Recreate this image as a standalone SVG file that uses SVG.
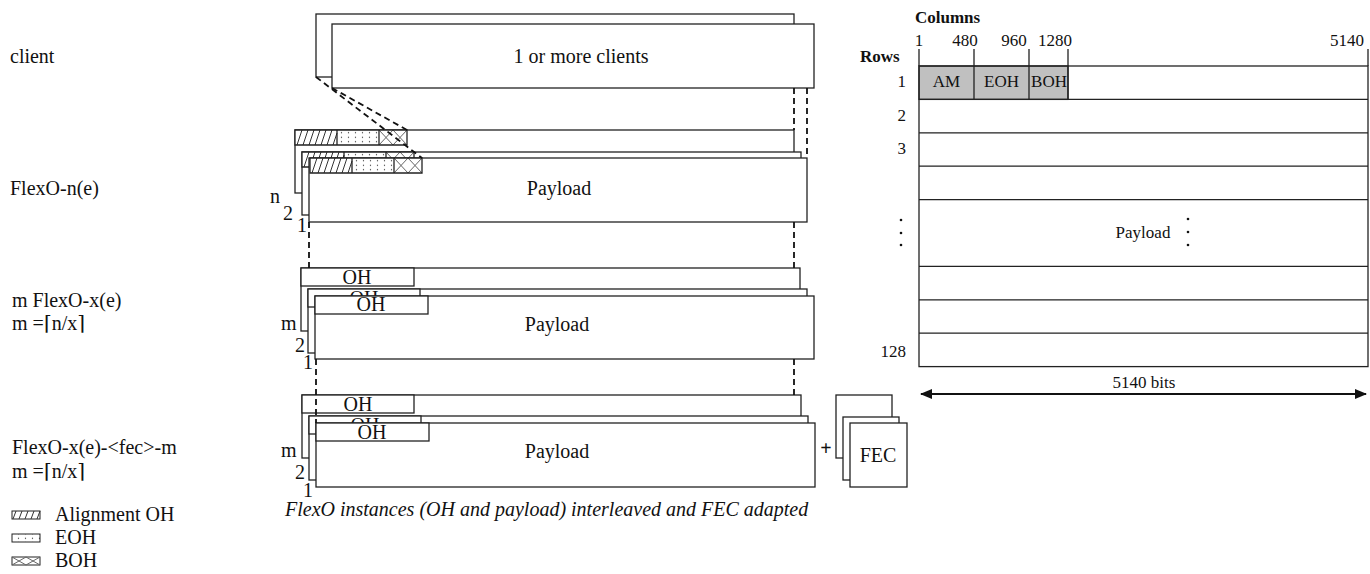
<svg xmlns="http://www.w3.org/2000/svg" xmlns:xlink="http://www.w3.org/1999/xlink" width="1370" height="574" viewBox="0 0 1370 574">
<style>
text{font-family:"Liberation Serif","DejaVu Serif",serif;fill:#111}
.t20{font-size:20px}
.t17{font-size:17px}
.mid{text-anchor:middle}
.end{text-anchor:end}
.box{fill:#fff;stroke:#222;stroke-width:1.3}
.ln{stroke:#222;stroke-width:1.3;fill:none}
.dash{stroke:#111;stroke-width:1.8;fill:none;stroke-dasharray:6 4}
.hat{stroke:#333;stroke-width:1;fill:none}
.crs{stroke:#666;stroke-width:1;fill:none}
.gray{fill:#c0c0c0;stroke:#222;stroke-width:1.3}
</style>
<defs>
<pattern id="dots" width="7" height="4.5" patternUnits="userSpaceOnUse" x="1" y="0.5">
<circle cx="3.5" cy="2.2" r="0.65" fill="#333"/>
</pattern>
<g id="ohRow">
<rect x="0" y="0" width="112" height="15" fill="#fff"/>
<path class="hat" d="M2,15L7,0M8,15L13,0M14,15L19,0M20,15L25,0M26,15L31,0M32,15L37,0M38,15L42,3"/>
<rect x="42" y="0" width="42" height="15" fill="url(#dots)"/>
<path class="crs" d="M84,0L98,15M98,0L84,15M98,0L112,15M112,0L98,15"/>
<path class="ln" d="M0,0H112V15H0ZM42,0V15M84,0V15"/>
</g>
<marker id="arr" viewBox="0 0 12 10" refX="11" refY="5" markerWidth="12" markerHeight="10" markerUnits="userSpaceOnUse" orient="auto-start-reverse">
<path d="M0,0L12,5L0,10Z" fill="#111"/>
</marker>
</defs>

<g id="left-labels">
<text class="t20" x="10" y="63">client</text>
<text class="t20" x="10" y="195">FlexO-n(e)</text>
<text class="t20" x="12" y="307">m FlexO-x(e)</text>
<text class="t20" x="12" y="330">m =⌈n/x⌉</text>
<text class="t20" x="12" y="454">FlexO-x(e)-&lt;fec&gt;-m</text>
<text class="t20" x="12" y="478">m =⌈n/x⌉</text>
</g>

<g id="legend">
<rect x="12" y="511" width="28" height="8" fill="#fff" stroke="#222" stroke-width="1"/>
<path class="hat" d="M13,519L16,511M19,519L22,511M25,519L28,511M31,519L34,511M37,519L40,511"/>
<text class="t20" x="55" y="521">Alignment OH</text>
<rect x="12" y="534" width="28" height="8" fill="url(#dots)" stroke="#222" stroke-width="1"/>
<text class="t20" x="55" y="544">EOH</text>
<rect x="12" y="557" width="28" height="8" fill="#fff" stroke="#222" stroke-width="1"/>
<path class="crs" d="M12,557L26,565M26,557L12,565M26,557L40,565M40,557L26,565"/>
<text class="t20" x="55" y="567">BOH</text>
</g>

<g id="clients">
<rect class="box" x="316" y="14" width="478" height="63"/>
<rect class="box" x="332" y="24" width="482" height="64"/>
<text class="t20 mid" x="581" y="63">1 or more clients</text>
</g>

<g id="flexo-n">
<rect class="box" x="295" y="130" width="499" height="63"/>
<use xlink:href="#ohRow" href="#ohRow" x="295" y="130"/>
<rect class="box" x="302" y="152" width="499" height="63"/>
<use xlink:href="#ohRow" href="#ohRow" x="302" y="152"/>
<rect class="box" x="309" y="158" width="498" height="64"/>
<use xlink:href="#ohRow" href="#ohRow" x="310" y="158"/>
<text class="t20 mid" x="559" y="195">Payload</text>
<text class="t20" x="270" y="203">n</text>
<text class="t20" x="283" y="220">2</text>
<text class="t20" x="297" y="232">1</text>
</g>

<g id="flexo-x">
<rect class="box" x="301" y="268" width="499" height="63"/>
<rect class="box" x="301" y="268" width="113" height="18"/>
<text class="t20 mid" x="357" y="284">OH</text>
<rect class="box" x="308" y="289" width="499" height="64"/>
<rect class="box" x="308" y="289" width="112" height="18"/>
<text class="t20 mid" x="364" y="305">OH</text>
<rect class="box" x="315" y="296" width="499" height="63"/>
<rect class="box" x="315" y="296" width="113" height="18"/>
<text class="t20 mid" x="371" y="311">OH</text>
<text class="t20 mid" x="557" y="331">Payload</text>
<text class="t20" x="281" y="330">m</text>
<text class="t20" x="295" y="352">2</text>
<text class="t20" x="303" y="369">1</text>
</g>

<g id="flexo-fec">
<rect class="box" x="302" y="395" width="499" height="63"/>
<rect class="box" x="302" y="395" width="112" height="18"/>
<text class="t20 mid" x="358" y="411">OH</text>
<rect class="box" x="309" y="416" width="499" height="64"/>
<rect class="box" x="309" y="416" width="112" height="18"/>
<text class="t20 mid" x="365" y="432">OH</text>
<rect class="box" x="316" y="423" width="499" height="64"/>
<rect class="box" x="316" y="423" width="113" height="18"/>
<text class="t20 mid" x="372" y="439">OH</text>
<text class="t20 mid" x="557" y="458">Payload</text>
<text class="t20" x="281" y="457">m</text>
<text class="t20" x="295" y="479">2</text>
<text class="t20" x="303" y="497">1</text>
<text class="t20" x="285" y="516" font-style="italic">FlexO instances (OH and payload) interleaved and FEC adapted</text>
</g>

<g id="plus">
<text class="t20 mid" x="826" y="455" font-weight="bold">+</text>
</g>

<g id="fec">
<rect class="box" x="836" y="395" width="56" height="63"/>
<rect class="box" x="843" y="417" width="56" height="63"/>
<rect class="box" x="850" y="423" width="57" height="64"/>
<text class="t20 mid" x="878" y="462">FEC</text>
</g>

<g id="connectors">
<path class="dash" d="M316,77L422,158"/>
<path class="dash" d="M332,88L407,130"/>
<path class="dash" d="M794,88V130"/>
<path class="dash" d="M807,88V158"/>
<path class="dash" d="M309,222V268"/>
<path class="dash" d="M794,222V268"/>
<path class="dash" d="M316,359V423"/>
<path class="dash" d="M794,359V395"/>
</g>

<g id="frame-table">
<text class="t17" x="915" y="23" font-weight="bold">Columns</text>
<text class="t17" x="860" y="62" font-weight="bold">Rows</text>
<text class="t17 mid" x="919" y="46">1</text>
<text class="t17 mid" x="965" y="46">480</text>
<text class="t17 mid" x="1014" y="46">960</text>
<text class="t17 mid" x="1055" y="46">1280</text>
<text class="t17 mid" x="1347" y="46">5140</text>
<rect class="gray" x="919" y="66" width="149" height="33.4"/>
<rect x="919" y="66" width="449" height="300.6" fill="none" stroke="#222" stroke-width="1.3"/>
<path class="ln" d="M919,49V66M974,49V99.4M1029,49V99.4M1068,49V99.4M1368,49V66"/>
<path class="ln" d="M1068,99.4H1368M919,99.4H1068M919,132.8H1368M919,166.2H1368M919,199.6H1368M919,266.4H1368M919,299.8H1368M919,333.2H1368"/>
<text class="t17 mid" x="946.5" y="87">AM</text>
<text class="t17 mid" x="1001.5" y="87">EOH</text>
<text class="t17 mid" x="1049" y="87">BOH</text>
<text class="t17 end" x="906" y="87">1</text>
<text class="t17 end" x="906" y="121">2</text>
<text class="t17 end" x="906" y="154">3</text>
<text class="t17 end" x="906" y="357">128</text>
<circle cx="901" cy="220" r="1.3" fill="#111"/>
<circle cx="901" cy="233" r="1.3" fill="#111"/>
<circle cx="901" cy="245" r="1.3" fill="#111"/>
<text class="t17 mid" x="1143" y="238">Payload</text>
<circle cx="1188" cy="219" r="1.3" fill="#111"/>
<circle cx="1188" cy="232" r="1.3" fill="#111"/>
<circle cx="1188" cy="245" r="1.3" fill="#111"/>
<path d="M921,394H1366" stroke="#111" stroke-width="2" marker-start="url(#arr)" marker-end="url(#arr)"/>
<text class="t17 mid" x="1144" y="388">5140 bits</text>
</g>
</svg>
